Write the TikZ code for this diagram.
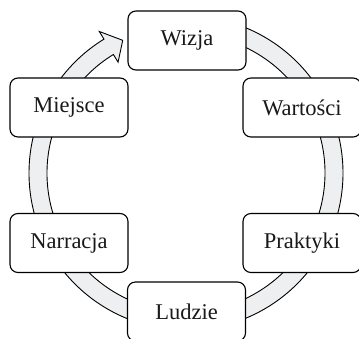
\documentclass[tikz,border=0pt]{standalone}
\usepackage{fontspec}
\setmainfont{Liberation Serif}
\usepackage{tikz}
\tikzset{>=latex}
\definecolor{ringgray}{RGB}{238,239,241}
\tikzset{
    etap/.style={draw, fill=white, rounded corners=8pt, line width=1.1pt, minimum width=118pt, minimum height=59pt, inner sep=0pt, text=black!90, font=\fontsize{22.5}{26}\selectfont},
    obieg/.style={draw, fill=ringgray, line width=.9pt, line join=miter}
}

\begin{document}
\begin{tikzpicture}[x=1pt, y=1pt]
    \useasboundingbox(0, 0) rectangle (359, 338);
    \coordinate (srodek) at (186, 165);
    % pierscien ze strzalka
    \begin{scope}[shift={(srodek)}]
        \draw[obieg](90:157) arc[start angle=90, end angle=-238.5, radius=157]--(-238.5:166)--(-244.5:147)--(-238.5:130)--(-238.5:139) arc[start angle=-238.5, end angle=90, radius=139]--cycle;
    \end{scope}
    \node[etap](wizja) at (187, 297.5){Wizja};
    \node[etap](wartosci) at (302, 230.5){Wartości};
    \node[etap](praktyki) at (302, 95){Praktyki};
    \node[etap](ludzie) at (186.5, 26.5){Ludzie};
    \node[etap](narracja) at (69, 95){Narracja};
    \node[etap](miejsce) at (69, 230.5){Miejsce};
\end{tikzpicture}
\end{document}
